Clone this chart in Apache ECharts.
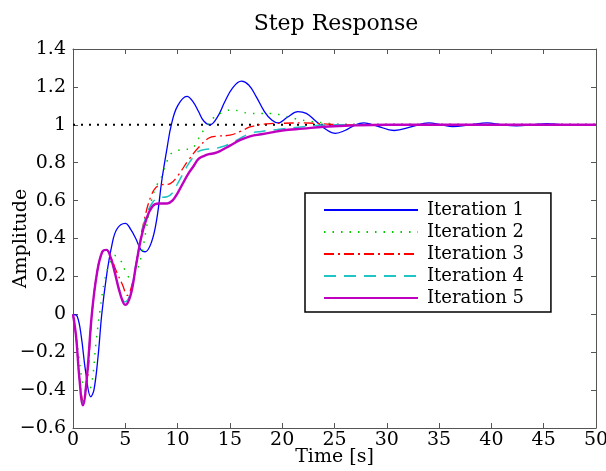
<!DOCTYPE html>
<html>
<head>
<meta charset="utf-8">
<script src="https://cdn.jsdelivr.net/npm/echarts@6/dist/echarts.min.js"></script>
<style>
  html, body { margin: 0; padding: 0; background: #fff; }
  #chart { width: 606px; height: 471px; }
</style>
</head>
<body>
<div id="chart"></div>
<script>
// values
var seriesNames = ['Iteration 1', 'Iteration 2', 'Iteration 3', 'Iteration 4', 'Iteration 5']
var refLevel = 1

var t1 = [0, 0.4, 0.8, 1.2, 1.7, 2.0, 2.4, 2.75, 3.2, 3.7, 4.2, 5.0, 5.5, 6.0, 6.5, 6.9, 7.5, 8.0, 8.5, 9.0, 9.4, 10.0, 10.9, 11.5, 12.0, 12.5, 13.1, 13.8, 14.5, 15.2, 16.1, 16.8, 17.5, 18.3, 19.0, 19.6, 20.5, 21.5, 22.3, 23.2, 24.2, 25.1, 26.0, 27.0, 27.8, 29.0, 30.7, 32.4, 34.0, 35.2, 36.3, 38.0, 39.6, 41.0, 42.4, 44.0, 45.3, 47.0, 50]
var v1 = [0, -0.01, -0.12, -0.3, -0.435, -0.4, -0.22, 0, 0.2, 0.36, 0.45, 0.48, 0.45, 0.4, 0.34, 0.33, 0.38, 0.5, 0.71, 0.88, 1.0, 1.1, 1.15, 1.12, 1.07, 1.02, 1.0, 1.04, 1.12, 1.19, 1.23, 1.21, 1.15, 1.07, 1.025, 1.01, 1.04, 1.07, 1.06, 1.02, 0.975, 0.955, 0.97, 1.0, 1.01, 0.995, 0.97, 0.99, 1.01, 1.0, 0.99, 1.0, 1.01, 1.0, 0.995, 1.0, 1.006, 1.0, 1.0]

var t2 = [0, 0.5, 1.0, 1.4, 1.8, 2.2, 2.6, 3.0, 3.5, 4.0, 4.5, 5.0, 5.5, 6.0, 6.5, 7.0, 7.5, 8.0, 8.5, 9.0, 9.5, 10.0, 10.5, 11.4, 11.8, 12.6, 13.5, 14.5, 15.2, 16.0, 17.0, 18.0, 19.0, 20.0, 21.4, 22.5, 24.0, 26.0, 30, 50]
var v2 = [0, -0.2, -0.38, -0.41, -0.36, -0.15, 0.03, 0.17, 0.27, 0.31, 0.29, 0.23, 0.19, 0.22, 0.3, 0.45, 0.6, 0.68, 0.73, 0.81, 0.855, 0.865, 0.87, 0.875, 0.91, 0.98, 1.04, 1.07, 1.08, 1.07, 1.06, 1.06, 1.06, 1.05, 1.03, 1.02, 1.01, 1.0, 1.0, 1.0]

var t3 = [0, 0.3, 0.6, 1.0, 1.4, 1.8, 2.3, 2.8, 3.2, 3.7, 4.2, 4.7, 5.2, 5.7, 6.2, 6.7, 7.5, 8.2, 9.3, 10.0, 11.0, 12.0, 13.0, 13.8, 15.0, 16.0, 17.0, 18.5, 20.0, 22.0, 24.0, 26.0, 30, 50]
var v3 = [0, -0.12, -0.33, -0.46, -0.33, 0.0, 0.22, 0.33, 0.34, 0.29, 0.22, 0.16, 0.1, 0.17, 0.32, 0.47, 0.63, 0.68, 0.69, 0.73, 0.81, 0.88, 0.93, 0.94, 0.945, 0.965, 0.99, 1.005, 1.008, 1.01, 1.005, 1.0, 1.0, 1.0]

var t4 = [0, 0.3, 0.6, 0.95, 1.3, 1.8, 2.3, 2.8, 3.2, 3.6, 4.0, 4.5, 4.95, 5.5, 6.0, 6.5, 7.0, 7.6, 8.2, 9.0, 9.5, 10.0, 10.5, 11.0, 11.5, 12.0, 12.6, 13.5, 14.0, 15.0, 16.0, 17.0, 18.0, 19.5, 22.0, 25.0, 30, 50]
var v4 = [0, -0.12, -0.33, -0.47, -0.35, 0.0, 0.22, 0.33, 0.34, 0.3, 0.22, 0.12, 0.065, 0.11, 0.26, 0.41, 0.52, 0.59, 0.615, 0.62, 0.64, 0.69, 0.74, 0.79, 0.83, 0.86, 0.87, 0.875, 0.88, 0.9, 0.93, 0.955, 0.965, 0.975, 0.99, 1.0, 1.0, 1.0]

var t5 = [0, 0.3, 0.6, 0.95, 1.3, 1.8, 2.3, 2.8, 3.2, 3.6, 4.0, 4.5, 5.0, 5.5, 6.0, 6.5, 7.0, 7.6, 8.2, 9.0, 9.5, 10.0, 10.5, 11.0, 11.5, 12.0, 12.5, 13.0, 13.5, 14.0, 15.0, 16.0, 17.0, 18.0, 19.0, 20.0, 22.0, 24.0, 26.0, 30, 50]
var v5 = [0, -0.12, -0.33, -0.48, -0.35, 0.0, 0.22, 0.33, 0.34, 0.3, 0.22, 0.11, 0.05, 0.1, 0.25, 0.4, 0.5, 0.57, 0.585, 0.585, 0.6, 0.64, 0.69, 0.74, 0.78, 0.82, 0.835, 0.845, 0.85, 0.86, 0.89, 0.92, 0.94, 0.95, 0.96, 0.97, 0.98, 0.99, 0.995, 1.0, 1.0]

function pairs (ts, vs) {
  return ts.map(function (t, i) { return [t, vs[i]] })
}

function tickLabel (v) {
  var r = Math.round(v * 10) / 10
  if (r === 0) return '0'
  return (r < 0 ? '\u2212' : '') + Math.abs(r)
}

var font = 'DejaVu Serif'
var frameColor = '#555'

var chart = echarts.init(document.getElementById('chart'))

var option = {
  animation: false,
  backgroundColor: '#fff',
  title: {
    text: 'Step Response',
    left: 331,
    textAlign: 'center',
    top: 8,
    textStyle: { fontFamily: font, fontSize: 22, fontWeight: 'normal', color: '#000' }
  },
  grid: {
    left: 73,
    right: 10,
    top: 49,
    bottom: 43,
    containLabel: false,
    outerBoundsMode: 'none'
  },
  legend: {
    data: seriesNames,
    orient: 'vertical',
    left: 305,
    top: 193,
    padding: [7, 27, 4, 18],
    itemWidth: 94,
    itemHeight: 14,
    itemGap: 2,
    backgroundColor: '#fff',
    borderColor: '#000',
    borderWidth: 1.5,
    borderRadius: 0,
    itemStyle: { opacity: 0 },
    textStyle: { fontFamily: font, fontSize: 18, lineHeight: 20, color: '#000', padding: [0, 0, 0, 4] }
  },
  xAxis: [{
    type: 'value',
    min: 0,
    max: 50,
    interval: 5,
    name: 'Time [s]',
    nameLocation: 'middle',
    nameGap: 20,
    nameMoveOverlap: false,
    nameTextStyle: { fontFamily: font, fontSize: 19, color: '#000' },
    axisLine: { onZero: false, lineStyle: { color: frameColor, width: 1 } },
    axisTick: { inside: true, length: 5, lineStyle: { color: frameColor } },
    axisLabel: { fontFamily: font, fontSize: 19, color: '#000', margin: 3 },
    splitLine: { show: false }
  }, {
    type: 'value',
    position: 'top',
    min: 0,
    max: 50,
    interval: 5,
    axisLine: { show: true, onZero: false, lineStyle: { color: frameColor, width: 1 } },
    axisTick: { show: true, inside: true, length: 5, lineStyle: { color: frameColor } },
    axisLabel: { show: false },
    splitLine: { show: false }
  }],
  yAxis: [{
    type: 'value',
    min: -0.6,
    max: 1.4,
    interval: 0.2,
    name: 'Amplitude',
    nameLocation: 'middle',
    nameRotate: 90,
    nameGap: 42,
    nameMoveOverlap: false,
    nameTextStyle: { fontFamily: font, fontSize: 19, color: '#000' },
    axisLine: { show: true, onZero: false, lineStyle: { color: frameColor, width: 1 } },
    axisTick: { show: true, inside: true, length: 5, lineStyle: { color: frameColor } },
    axisLabel: { fontFamily: font, fontSize: 19, color: '#000', margin: 7, formatter: tickLabel },
    splitLine: { show: false }
  }, {
    type: 'value',
    position: 'right',
    min: -0.6,
    max: 1.4,
    interval: 0.2,
    axisLine: { show: true, onZero: false, lineStyle: { color: frameColor, width: 1 } },
    axisTick: { show: true, inside: true, length: 5, lineStyle: { color: frameColor } },
    axisLabel: { show: false },
    splitLine: { show: false }
  }],
  series: [
    {
      name: 'reference',
      type: 'line',
      data: [[0, refLevel], [50, refLevel]],
      symbol: 'none',
      silent: true,
      lineStyle: { color: '#000', width: 2, type: [2, 6] },
      z: 1
    },
    {
      name: seriesNames[0],
      type: 'line',
      data: pairs(t1, v1),
      smooth: 0.4,
      symbol: 'none',
      color: '#0000ff',
      lineStyle: { color: '#0000ff', width: 1.3, type: 'solid' },
      z: 2
    },
    {
      name: seriesNames[1],
      type: 'line',
      data: pairs(t2, v2),
      smooth: 0.4,
      symbol: 'none',
      color: '#00cc00',
      lineStyle: { color: '#00cc00', width: 1.5, type: [1.5, 7] },
      z: 3
    },
    {
      name: seriesNames[2],
      type: 'line',
      data: pairs(t3, v3),
      smooth: 0.4,
      symbol: 'none',
      color: '#ff0000',
      lineStyle: { color: '#ff0000', width: 1.3, type: [10, 4, 2, 4] },
      z: 4
    },
    {
      name: seriesNames[3],
      type: 'line',
      data: pairs(t4, v4),
      smooth: 0.4,
      symbol: 'none',
      color: '#20c4c4',
      lineStyle: { color: '#20c4c4', width: 1.5, type: [12, 8] },
      z: 5
    },
    {
      name: seriesNames[4],
      type: 'line',
      data: pairs(t5, v5),
      smooth: 0.4,
      symbol: 'none',
      color: '#c000c0',
      lineStyle: { color: '#c000c0', width: 2.4, type: 'solid' },
      z: 6
    }
  ]
}

chart.setOption(option)
</script>
</body>
</html>
